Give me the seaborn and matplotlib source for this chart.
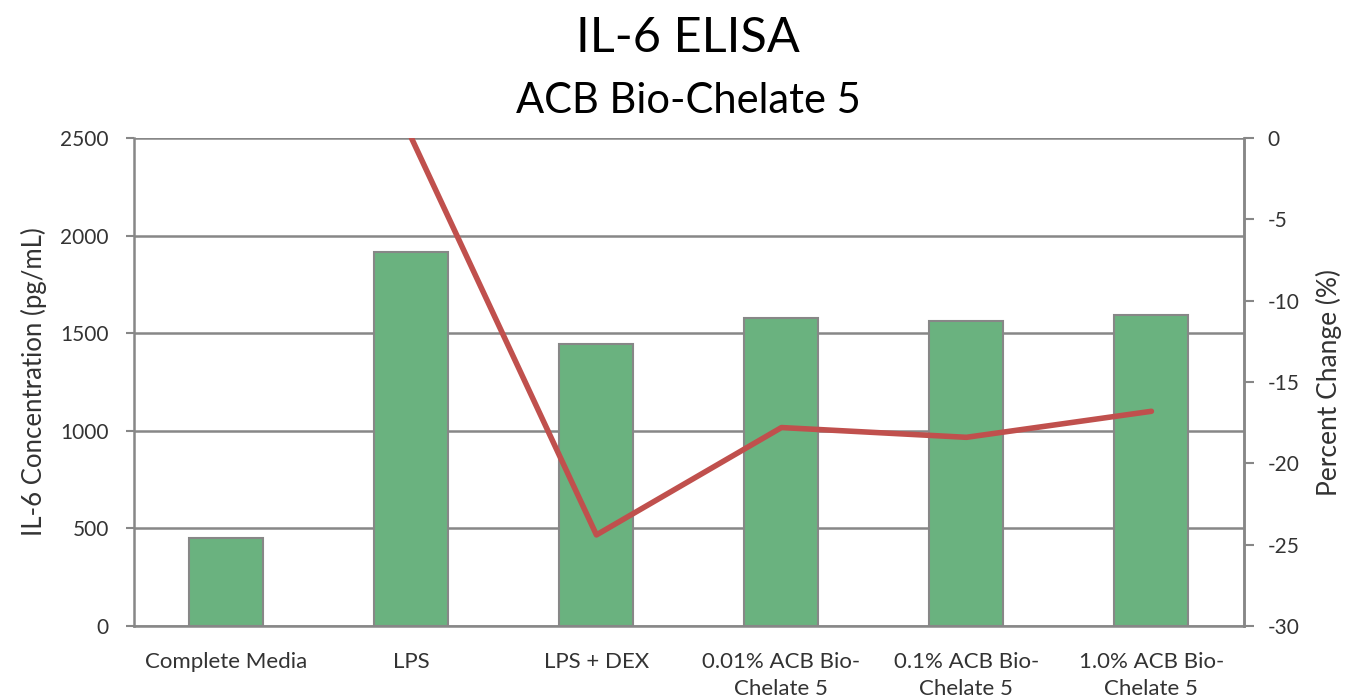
import numpy as np
import pandas as pd
import seaborn as sns
import matplotlib.pyplot as plt

# chart data
categories = ["Complete Media", "LPS", "LPS + DEX",
              "0.01% ACB Bio-\nChelate 5", "0.1% ACB Bio-\nChelate 5",
              "1.0% ACB Bio-\nChelate 5"]
concentration = [451, 1916, 1445, 1578, 1562, 1593]
percent_change = [np.nan, 0.0, -24.4, -17.8, -18.4, -16.8]

df = pd.DataFrame({"Sample": categories,
                   "Concentration": concentration,
                   "Change": percent_change})

sns.set_theme(style="white")
plt.rcParams["font.family"] = ["Lato", "DejaVu Sans"]
plt.rcParams["axes.unicode_minus"] = False
grey = "#878787"
text_col = "#333333"

fig = plt.figure(figsize=(13.49, 6.99), dpi=100)
ax = fig.add_axes([0.0993, 0.1044, 0.8228, 0.6982])

sns.barplot(data=df, x="Sample", y="Concentration", order=categories,
            color="#6ab27f", saturation=1, width=0.4,
            edgecolor=grey, linewidth=1.5, ax=ax)
ax.set_ylim(0, 2500)
ax.set_yticks([0, 500, 1000, 1500, 2000, 2500])
ax.yaxis.grid(True, color=grey, linewidth=1.8)
ax.set_axisbelow(True)
ax.set_xlabel("")
ax.set_ylabel("IL-6 Concentration (pg/mL)", fontsize=18.5, color=text_col,
              labelpad=10)
ax.tick_params(axis="y", left=True, length=6, width=1.5, color=grey,
               labelsize=15, pad=12, labelcolor=text_col)
ax.tick_params(axis="x", bottom=False, labelsize=16, pad=13,
               labelcolor=text_col)
for lbl in ax.get_xticklabels():
    lbl.set_linespacing(1.4)
for side in ["left", "right", "bottom"]:
    ax.spines[side].set_color(grey)
    ax.spines[side].set_linewidth(1.8)
ax.spines["top"].set_visible(False)

# percent change line on the secondary axis
ax2 = ax.twinx()
sns.pointplot(data=df, x="Sample", y="Change", order=categories,
              color="#c0504d", markers="", linestyles="-", ax=ax2)
for line in ax2.lines:
    line.set_linewidth(4)
ax2.set_ylim(-30, 0)
ax2.set_yticks([0, -5, -10, -15, -20, -25, -30])
ax2.set_ylabel("Percent Change (%)", fontsize=19, color=text_col,
               labelpad=12)
ax2.tick_params(axis="y", right=True, length=7, width=1.5, color=grey,
                labelsize=15, pad=10, labelcolor=text_col)
for side in ["left", "right", "bottom", "top"]:
    ax2.spines[side].set_visible(False)
ax2.spines["right"].set_visible(True)
ax2.spines["right"].set_color(grey)
ax2.spines["right"].set_linewidth(1.8)

fig.text(0.51, 0.945, "IL-6 ELISA", ha="center", va="center",
         fontsize=35, color="black")
fig.text(0.51, 0.855, "ACB Bio-Chelate 5", ha="center", va="center",
         fontsize=30, color="black")

plt.savefig("out.png", dpi=100)
